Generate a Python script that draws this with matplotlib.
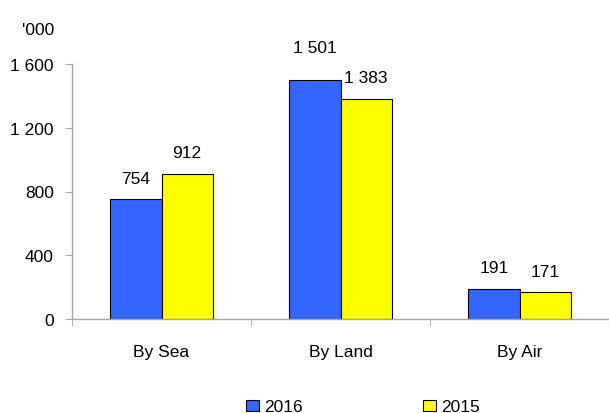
import matplotlib.pyplot as plt
import numpy as np

plt.rcParams['font.family'] = ['Liberation Sans', 'DejaVu Sans']

# data
categories = ['By Sea', 'By Land', 'By Air']
values_2016 = [754, 1501, 191]
values_2015 = [912, 1383, 171]
y_ticks = [0, 400, 800, 1200, 1600]
y_labels = ['0', '400', '800', '1 200', '1 600']

fig = plt.figure(figsize=(6.09, 4.14), dpi=100)
ax = fig.add_axes([72 / 609, 94 / 414, 537 / 609, 255 / 414])

x = np.arange(len(categories))
w = 0.286
grey = '#a6a6a6'

b1 = ax.bar(x - w / 2, values_2016, w, color='#3366FF', edgecolor='black', linewidth=0.8, label='2016')
b2 = ax.bar(x + w / 2, values_2015, w, color='#FFFF00', edgecolor='black', linewidth=0.8, label='2015')

def fmt(v):
    return f'{v:,}'.replace(',', ' ')

for bars in (b1, b2):
    for rect in bars:
        v = rect.get_height()
        off = 18 if v == 1501 else 9.5
        ax.annotate(fmt(int(v)), (rect.get_x() + rect.get_width() / 2, v),
                    xytext=(0, off), textcoords='offset points',
                    ha='center', va='bottom', fontsize=12.5)

ax.set_xlim(-0.5, 2.45)
ax.set_ylim(0, 1600)
ax.set_yticks(y_ticks)
ax.set_yticklabels(y_labels)
ax.set_xticks(x)
ax.set_xticklabels(categories)
ax.set_xticks([-0.5, 0.5, 1.5, 2.5], minor=True)

for s in ['top', 'right']:
    ax.spines[s].set_visible(False)
for s in ['left', 'bottom']:
    ax.spines[s].set_color(grey)
    ax.spines[s].set_linewidth(1)

ax.tick_params(axis='y', length=5, color=grey, pad=8, labelsize=12.5)
ax.tick_params(axis='x', which='major', length=0, pad=18, labelsize=12.5)
ax.tick_params(axis='x', which='minor', length=5, color=grey)

fig.text(54 / 609, 1 - 35 / 414, "'000", ha='right', va='baseline', fontsize=12.5)

fig.legend(handles=[b1, b2], loc='center', bbox_to_anchor=(363 / 609, 1 - 408 / 414),
           ncol=2, frameon=False, fontsize=12.5, handlelength=0.75, handleheight=0.65,
           handletextpad=0.3, columnspacing=6.9, borderpad=0)

fig.savefig('out.png', dpi=100)
